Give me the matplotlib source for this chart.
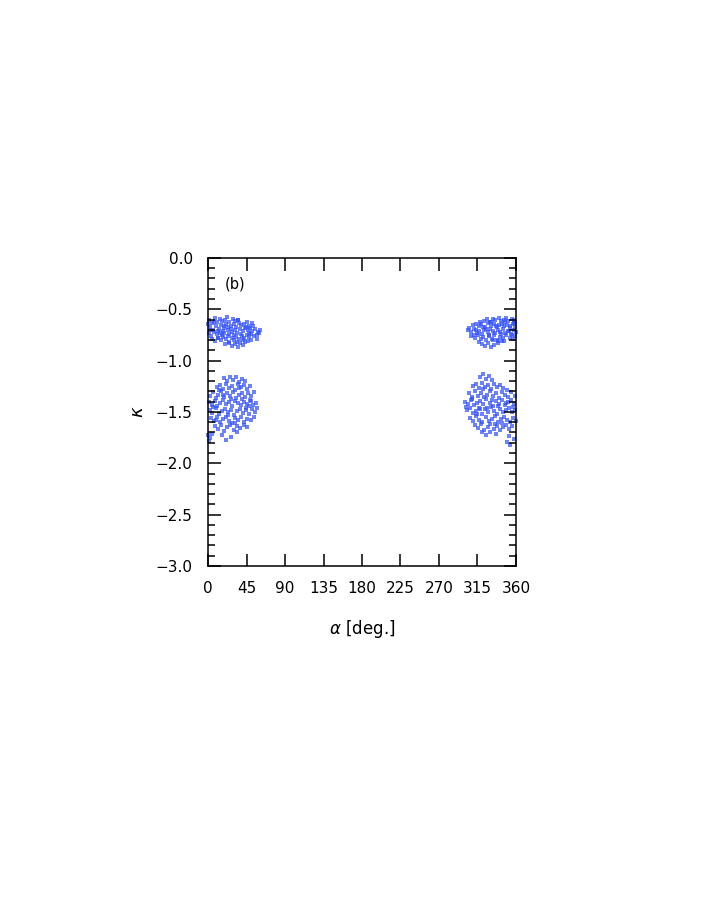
import matplotlib
matplotlib.use("Agg")
import matplotlib.pyplot as plt
from matplotlib.ticker import MultipleLocator

# upper-left cluster
c1_alpha = [1.5, 4.2, 7.8, 10.3, 13.9, 16.1, 19.6, 22.4, 25.0, 28.7, 31.2, 34.5,
            2.8, 5.5, 9.1, 12.6, 14.8, 18.3, 21.0, 23.9, 27.2, 29.8, 33.1, 36.4, 38.9, 42.3, 45.6, 48.1,
            0.7, 3.6, 6.9, 10.8, 12.2, 16.7, 19.1, 22.8, 24.6, 28.1, 31.5, 33.9, 37.2, 40.4, 43.0, 46.3,
            49.5, 51.8, 55.2, 57.9, 61.0,
            4.9, 8.6, 11.7, 15.3, 17.9, 21.6, 24.0, 27.6, 30.3, 32.8, 36.0, 39.4, 41.7, 45.1, 47.9, 50.6,
            53.9, 56.8, 59.7,
            19.8, 24.4, 27.9, 31.8, 35.3, 37.7, 40.9, 43.6, 46.7, 50.2,
            7.1, 18.8, 35.6, 44.2, 53.1, 57.3, 26.3, 13.5, 38.2, 47.4, 30.7, 2.1, 11.2, 23.2, 41.3, 50.9,
            0.3, 33.4, 17.2]
c1_kappa = [-0.60, -0.63, -0.585, -0.62, -0.59, -0.61, -0.605, -0.575, -0.625, -0.595, -0.61, -0.605,
            -0.67, -0.70, -0.66, -0.69, -0.655, -0.68, -0.64, -0.675, -0.66, -0.645, -0.67, -0.635, -0.655,
            -0.64, -0.625, -0.66,
            -0.73, -0.76, -0.72, -0.745, -0.71, -0.75, -0.73, -0.705, -0.74, -0.72, -0.70, -0.735, -0.695,
            -0.715, -0.685, -0.70, -0.68, -0.71, -0.69, -0.72, -0.70,
            -0.79, -0.81, -0.78, -0.80, -0.77, -0.79, -0.815, -0.78, -0.80, -0.77, -0.79, -0.765, -0.78,
            -0.755, -0.77, -0.745, -0.76, -0.75, -0.735,
            -0.84, -0.83, -0.86, -0.84, -0.87, -0.83, -0.85, -0.82, -0.81, -0.80,
            -0.625, -0.665, -0.60, -0.675, -0.665, -0.79, -0.69, -0.73, -0.745, -0.73, -0.755, -0.70,
            -0.775, -0.76, -0.80, -0.635, -0.645, -0.82, -0.71]

# lower-left cluster
c2_alpha = [18.5, 22.1, 25.6, 29.3, 32.8, 36.2, 40.1, 43.5,
            10.2, 13.8, 17.0, 20.7, 24.3, 27.9, 31.4, 34.6, 38.3, 41.9, 45.2, 48.8,
            2.5, 5.9, 9.4, 12.1, 15.7, 19.2, 22.6, 26.0, 29.5, 33.0, 36.7, 40.0, 43.4, 47.1, 50.5, 53.8,
            0.8, 4.3, 7.6, 11.0, 14.5, 17.8, 21.3, 24.9, 28.4, 31.9, 35.1, 38.7, 42.2, 45.8, 49.0, 52.4, 55.9,
            1.9, 5.2, 8.8, 12.4, 15.9, 19.5, 23.0, 26.4, 30.1, 33.6, 37.0, 40.6, 44.1, 47.5, 51.0, 54.7, 57.8,
            3.1, 6.7, 10.5, 14.0, 17.4, 20.9, 24.5, 28.0, 31.6, 35.4, 38.9, 42.6, 46.0, 49.7, 53.2,
            8.0, 11.6, 15.2, 18.7, 22.3, 25.8, 29.9, 33.4, 37.8, 41.5, 45.4,
            0.5, 2.9, 4.6, 1.2, 21.4, 26.9, 16.3, 33.8,
            6.1, 13.2, 27.1, 36.0, 44.7, 50.1, 23.7, 9.8, 39.6, 18.1, 31.0, 47.9]
c2_kappa = [-1.17, -1.20, -1.155, -1.19, -1.16, -1.205, -1.18, -1.195,
            -1.26, -1.24, -1.28, -1.225, -1.27, -1.245, -1.285, -1.23, -1.26, -1.24, -1.275, -1.25,
            -1.34, -1.31, -1.36, -1.33, -1.30, -1.355, -1.32, -1.345, -1.305, -1.365, -1.33, -1.315,
            -1.35, -1.32, -1.34, -1.31,
            -1.40, -1.43, -1.39, -1.445, -1.41, -1.385, -1.425, -1.40, -1.44, -1.39, -1.415, -1.435,
            -1.40, -1.42, -1.385, -1.43, -1.41,
            -1.48, -1.51, -1.465, -1.52, -1.49, -1.47, -1.505, -1.48, -1.525, -1.495, -1.47, -1.51,
            -1.485, -1.52, -1.475, -1.50, -1.46,
            -1.56, -1.59, -1.545, -1.60, -1.57, -1.55, -1.585, -1.605, -1.56, -1.58, -1.545, -1.595,
            -1.565, -1.58, -1.55,
            -1.64, -1.67, -1.625, -1.69, -1.65, -1.63, -1.675, -1.64, -1.66, -1.625, -1.645,
            -1.72, -1.75, -1.71, -1.78, -1.77, -1.74, -1.72, -1.70,
            -1.45, -1.29, -1.37, -1.265, -1.46, -1.39, -1.53, -1.58, -1.37, -1.33, -1.61, -1.44]

# upper-right cluster
c3_alpha = [322.5, 326.1, 329.8, 333.4, 336.0, 339.7, 342.3, 345.9, 348.6, 351.2, 354.8, 357.5, 359.4,
            309.6, 313.2, 316.9, 319.4, 323.8, 327.0, 330.5, 334.1, 337.6, 340.2, 343.8, 346.4, 349.9,
            352.5, 356.1, 358.8,
            303.8, 306.9, 310.4, 314.0, 317.3, 320.8, 323.1, 326.7, 329.4, 332.9, 335.5, 338.8, 341.6,
            345.0, 347.7, 351.3, 353.9, 357.2, 359.6,
            307.5, 311.8, 315.1, 318.6, 321.9, 325.4, 328.2, 331.7, 334.4, 338.1, 341.0, 344.6, 348.2,
            352.8, 356.4, 359.1,
            316.3, 320.0, 323.6, 327.3, 330.9, 334.8, 338.5, 343.2,
            305.2, 312.7, 318.0, 324.9, 331.2, 336.9, 342.8, 347.0, 350.6, 355.3, 358.0, 328.6, 339.4,
            321.3, 345.5, 333.0, 353.3, 310.9]
c3_kappa = [-0.61, -0.595, -0.62, -0.59, -0.605, -0.58, -0.615, -0.60, -0.585, -0.61, -0.595, -0.605, -0.62,
            -0.655, -0.64, -0.665, -0.645, -0.67, -0.635, -0.66, -0.645, -0.675, -0.65, -0.64, -0.665,
            -0.655, -0.68, -0.645, -0.67,
            -0.70, -0.72, -0.695, -0.73, -0.71, -0.74, -0.705, -0.725, -0.69, -0.715, -0.735, -0.70,
            -0.72, -0.695, -0.73, -0.71, -0.74, -0.70, -0.725,
            -0.76, -0.78, -0.755, -0.79, -0.77, -0.80, -0.765, -0.785, -0.75, -0.795, -0.77, -0.78,
            -0.755, -0.775, -0.79, -0.765,
            -0.82, -0.84, -0.855, -0.83, -0.87, -0.845, -0.825, -0.81,
            -0.685, -0.70, -0.625, -0.69, -0.625, -0.66, -0.745, -0.62, -0.715, -0.755, -0.63, -0.755,
            -0.81, -0.67, -0.805, -0.80, -0.66, -0.75]

# lower-right cluster
c4_alpha = [318.2, 321.7, 325.3, 328.8, 332.4,
            309.5, 313.1, 316.6, 320.2, 323.9, 327.5, 331.0, 334.6, 338.1, 341.8, 345.3,
            304.6, 308.0, 311.7, 315.3, 318.8, 322.4, 325.9, 329.6, 333.2, 336.7, 340.3, 343.9, 347.4,
            350.9, 354.5,
            300.9, 304.2, 307.8, 311.3, 314.9, 318.4, 322.0, 325.5, 329.1, 332.7, 336.2, 339.8, 343.3,
            346.9, 350.4, 354.0, 357.6,
            302.3, 305.8, 309.4, 313.0, 316.5, 320.1, 323.6, 327.2, 330.8, 334.3, 337.9, 341.4, 345.0,
            348.5, 352.1, 355.7, 359.2,
            306.5, 310.1, 313.7, 317.2, 320.8, 324.4, 327.9, 331.5, 335.0, 338.6, 342.2, 345.7, 349.3,
            352.8, 356.4, 359.5,
            312.4, 316.0, 319.6, 323.1, 326.7, 330.2, 333.8, 337.4, 340.9, 344.5, 348.0, 351.6, 355.1,
            320.5, 324.6, 329.8, 336.1, 352.0,
            349.6, 352.6, 357.8,
            301.5, 308.9, 314.3, 326.4, 332.0, 339.3, 344.1, 350.0, 356.9, 358.6, 321.2, 335.7, 347.8, 317.8]
c4_kappa = [-1.16, -1.135, -1.18, -1.15, -1.19,
            -1.25, -1.23, -1.27, -1.215, -1.26, -1.24, -1.275, -1.225, -1.255, -1.235, -1.27,
            -1.32, -1.35, -1.30, -1.34, -1.315, -1.355, -1.33, -1.295, -1.345, -1.32, -1.36, -1.305,
            -1.33, -1.35, -1.31,
            -1.40, -1.42, -1.385, -1.435, -1.41, -1.39, -1.425, -1.375, -1.415, -1.44, -1.395, -1.42,
            -1.38, -1.43, -1.405, -1.385, -1.42,
            -1.48, -1.46, -1.51, -1.49, -1.465, -1.515, -1.475, -1.50, -1.455, -1.49, -1.52, -1.47,
            -1.505, -1.485, -1.46, -1.50, -1.48,
            -1.56, -1.59, -1.54, -1.575, -1.60, -1.55, -1.585, -1.565, -1.535, -1.595, -1.57, -1.55,
            -1.58, -1.60, -1.56, -1.585,
            -1.63, -1.66, -1.615, -1.675, -1.645, -1.62, -1.665, -1.635, -1.68, -1.65, -1.625, -1.67, -1.64,
            -1.70, -1.72, -1.695, -1.71, -1.73,
            -1.79, -1.82, -1.76,
            -1.45, -1.37, -1.52, -1.46, -1.38, -1.44, -1.61, -1.29, -1.45, -1.34, -1.28, -1.62, -1.41, -1.47]

x_ticks = [0, 45, 90, 135, 180, 225, 270, 315, 360]
y_ticks = [0.0, -0.5, -1.0, -1.5, -2.0, -2.5, -3.0]

plt.rcParams['font.family'] = ['DejaVu Sans']

fig = plt.figure(figsize=(7.08, 9.17), dpi=100)
ax = fig.add_axes([0.2938, 0.3828, 0.435, 0.3359])

for a, k in [(c1_alpha, c1_kappa), (c2_alpha, c2_kappa), (c3_alpha, c3_kappa), (c4_alpha, c4_kappa)]:
    ax.scatter(a, k, marker='s', s=8, color='#2f4dff', alpha=0.7, linewidths=0, clip_on=False)

ax.set_xlim(0, 360)
ax.set_ylim(-3.0, 0.0)
ax.set_xticks(x_ticks)
ax.set_xticklabels([str(t) for t in x_ticks])
ax.set_yticks(y_ticks)
ax.set_yticklabels([f"\u2212{abs(t):.1f}" if t < 0 else f"{t:.1f}" for t in y_ticks])
ax.yaxis.set_minor_locator(MultipleLocator(0.1))

ax.tick_params(which='both', direction='in', top=True, right=True, width=1.1, labelsize=11)
ax.tick_params(which='major', length=9, pad=11)
ax.tick_params(which='minor', length=5)
for sp in ax.spines.values():
    sp.set_linewidth(1.1)

ax.set_xlabel(r'$\alpha$ [deg.]', fontsize=12, labelpad=16)
ax.set_ylabel(r'$\kappa$', fontsize=13, labelpad=6)
ax.text(0.055, 0.915, '(b)', transform=ax.transAxes, fontsize=10.5, va='center')

fig.savefig("out.png", dpi=100)
